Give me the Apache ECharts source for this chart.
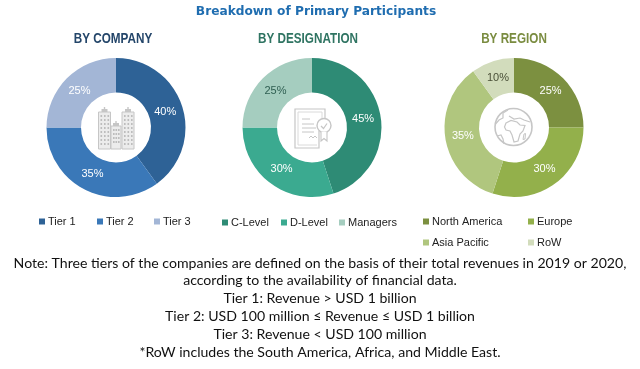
<!DOCTYPE html>
<html><head><meta charset="utf-8">
<style>html,body{margin:0;padding:0;background:#fff}#c{width:640px;height:369px}</style>
<script src="https://cdn.jsdelivr.net/npm/echarts@6/dist/echarts.min.js"></script>
</head><body><div id="c"></div>
<script>
const mainTitle = 'Breakdown of Primary Participants';
const companyTitle = 'BY COMPANY';
const companyNames = ['Tier 1','Tier 2','Tier 3'];
const companyValues = [40,35,25];
const companyColors = ['#2E6296','#3A78B8','#A3B6D6'];
const designationTitle = 'BY DESIGNATION';
const designationNames = ['C-Level','D-Level','Managers'];
const designationValues = [45,30,25];
const designationColors = ['#2E8B75','#3BAA90','#A5CDBF'];
const regionTitle = 'BY REGION';
const regionNames = ['North America','Europe','Asia Pacific','RoW'];
const regionValues = [25,30,35,10];
const regionColors = ['#7C9040','#93B04B','#B0C67E','#D2DCBC'];
const noteLines = [
 'Note: Three tiers of the companies are defined on the basis of their total revenues in 2019 or 2020,',
 'according to the availability of financial data.',
 'Tier 1: Revenue > USD 1 billion',
 'Tier 2: USD 100 million ≤ Revenue ≤ USD 1 billion',
 'Tier 3: Revenue < USD 100 million',
 '*RoW includes the South America, Africa, and Middle East.'
];
const darkLabels = {'Managers':'#2F5F52','RoW':'#4A5038'};
const labelPullIn = 3.5;

function pie(names,values,colors,cx){
  const total=values.reduce((a,b)=>a+b,0);
  let cum=0;
  return {type:'pie',radius:[35,69.5],center:[cx,127.5],startAngle:90,clockwise:true,silent:true,
    avoidLabelOverlap:false,
    label:{show:true,position:'inside',formatter:'{c}%',fontFamily:'Liberation Sans',fontSize:11,color:'#fff'},
    labelLine:{show:false},
    data:names.map((n,i)=>{
      const mid=(cum+values[i]/2)/total*2*Math.PI; cum+=values[i];
      const label={offset:[-labelPullIn*Math.sin(mid),labelPullIn*Math.cos(mid)]};
      if(darkLabels[n]) label.color=darkLabels[n];
      return {name:n,value:values[i],itemStyle:{color:colors[i]},label};
    })};
}
function legendItem(name,x,y){
  return {show:true,selectedMode:false,data:[name],left:x,top:y,padding:0,itemWidth:6,itemHeight:6,itemGap:0,
    icon:'rect',textStyle:{fontFamily:'Liberation Sans',fontSize:11,color:'#222',padding:[0,0,0,-2]}};
}
function head(text,x,color,sx){
  return {type:'text',x,y:38.5,scaleX:sx,style:{text,fill:color,align:'center',verticalAlign:'middle',
    font:'bold 15px "Liberation Sans"'}};
}
const G='#c6c6c6';
function tower(x,y,w,h){
  const out=[{type:'rect',shape:{x,y,width:w,height:h},style:{fill:'#ececec',stroke:G,lineWidth:1}},
    {type:'rect',shape:{x:x+w/2-3,y:y-3,width:6,height:3},style:{fill:G}},
    {type:'rect',shape:{x:x+w/2-0.7,y:y-5,width:1.4,height:2},style:{fill:G}}];
  for(let r=0;r<Math.floor((h-4)/4);r++)for(let c=0;c<3;c++)
    out.push({type:'rect',shape:{x:x+2+c*(w-5)/2,y:y+3+r*4,width:1.6,height:2},style:{fill:'#bdbdbd'}});
  return out;
}
const buildings=[...tower(98.5,112,12,37),...tower(122,112,12,37),...tower(111,126,10,23)];
const docIcon=[
  {type:'polyline',shape:{points:[[319,131],[319,148],[295,148],[295,109],[325,109],[325,118]]},style:{fill:'none',stroke:G,lineWidth:1.2}},
  {type:'polyline',shape:{points:[[317,145],[298,145],[298,112],[322,112],[322,118]]},style:{fill:'none',stroke:'#dadada',lineWidth:1}},
  {type:'line',shape:{x1:302,y1:119,x2:310,y2:119},style:{stroke:G,lineWidth:1}},
  {type:'line',shape:{x1:302,y1:124,x2:314,y2:124},style:{stroke:G,lineWidth:1}},
  {type:'line',shape:{x1:302,y1:128,x2:316,y2:128},style:{stroke:G,lineWidth:1}},
  {type:'line',shape:{x1:302,y1:132,x2:314,y2:132},style:{stroke:G,lineWidth:1}},
  {type:'polyline',shape:{points:[[309,138],[311,136],[313,138],[315,136],[317,138]]},style:{fill:'none',stroke:G,lineWidth:1}},
  {type:'circle',shape:{cx:324,cy:125.5,r:7},style:{fill:'#fff',stroke:G,lineWidth:1.4}},
  {type:'polyline',shape:{points:[[321,126],[323.5,128.5],[327,123.5]]},style:{fill:'none',stroke:G,lineWidth:1.2}},
  {type:'polyline',shape:{points:[[321,132],[321,141],[324,138.5],[327,141],[327,132]]},style:{fill:'#fff',stroke:G,lineWidth:1.1}}
];
const globe=[
  {type:'circle',shape:{cx:513.5,cy:127,r:18.5},style:{fill:'#fff',stroke:G,lineWidth:1.6}},
  {type:'polygon',shape:{points:[[506,123],[511,120.5],[517,122],[520,125],[525,125.5],[523,131],[520,134],[518,141],[514,142],[512,135],[510,131],[506,130],[504.5,127]]},style:{fill:'#fff',stroke:G,lineWidth:1.2}},
  {type:'polyline',shape:{points:[[495.5,124],[499,120],[503,118],[503,113],[508,110]]},style:{fill:'none',stroke:G,lineWidth:1.2}},
  {type:'polyline',shape:{points:[[497,136],[501,135],[503,139],[504,144]]},style:{fill:'none',stroke:G,lineWidth:1.2}},
  {type:'polyline',shape:{points:[[509,116],[514,119],[520,118],[524,120],[530,122]]},style:{fill:'none',stroke:G,lineWidth:1.2}},
  {type:'polygon',shape:{points:[[524,134],[525.5,133.5],[525,139],[523,139.5]]},style:{fill:'#fff',stroke:G,lineWidth:1}}
];
const chart=echarts.init(document.getElementById('c'),null,{renderer:'canvas'});
chart.setOption({
  backgroundColor:'#fff',animation:false,
  title:[
    {text:mainTitle,left:316,top:5.5,textAlign:'center',padding:0,textStyle:{fontFamily:'DejaVu Sans',fontWeight:'bold',fontSize:12.2,color:'#1F6DB0'}},
    ...noteLines.map((t,i)=>({text:t,left:320,top:256+i*17.9,textAlign:'center',padding:0,
      textStyle:{fontFamily:'Lato',fontWeight:'normal',fontSize:14.1,color:'#111'}}))
  ],
  legend:[
    legendItem('Tier 1',39,216),legendItem('Tier 2',97,216),legendItem('Tier 3',154,216),
    legendItem('C-Level',222,217),legendItem('D-Level',281,217),legendItem('Managers',339,217),
    legendItem('North America',423,216),legendItem('Europe',528,216),
    legendItem('Asia Pacific',423,237),legendItem('RoW',528,237)
  ],
  series:[
    pie(companyNames,companyValues,companyColors,116),
    pie(designationNames,designationValues,designationColors,312),
    pie(regionNames,regionValues,regionColors,514)
  ],
  graphic:{elements:[
    head(companyTitle,113,'#24466A',0.78),
    head(designationTitle,308,'#2F7462',0.78),
    head(regionTitle,514,'#7A8C40',0.78),
    ...[...buildings,...docIcon,...globe]
  ].map(e=>({...e,silent:true,z:100}))}
});
</script></body></html>
